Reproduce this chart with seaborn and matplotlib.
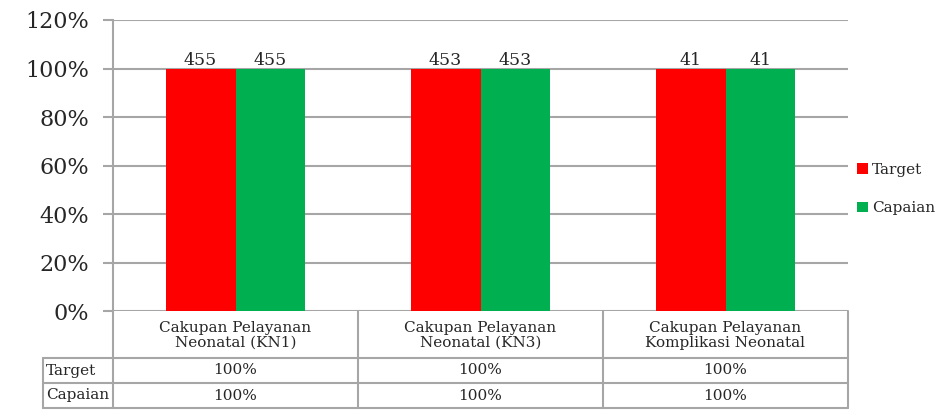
import matplotlib
matplotlib.use("Agg")
import matplotlib.pyplot as plt
import seaborn as sns
import pandas as pd
from matplotlib.patches import Patch

# data
categories = ["Cakupan Pelayanan\nNeonatal (KN1)",
              "Cakupan Pelayanan\nNeonatal (KN3)",
              "Cakupan Pelayanan\nKomplikasi Neonatal"]
target_pct = [100, 100, 100]
capaian_pct = [100, 100, 100]
target_count = [455, 453, 41]
capaian_count = [455, 453, 41]
series = ["Target", "Capaian"]
colors = {"Target": "#ff0000", "Capaian": "#00b050"}

df = pd.DataFrame({
    "Kategori": categories * 2,
    "Seri": ["Target"] * 3 + ["Capaian"] * 3,
    "Persen": [v / 100 for v in target_pct + capaian_pct],
})

sns.set_style("white")
FONT = ["DejaVu Serif"]
plt.rcParams["font.family"] = FONT

W, H = 941, 418
fig = plt.figure(figsize=(W / 100, H / 100), dpi=100)

# layout in pixels
x0, x1 = 113, 848
y_top, y_zero = 20, 311
row_left = 43
row_y = [311, 358, 383, 408]
grid_col = "#a6a6a6"

ax = fig.add_axes([x0 / W, 1 - y_zero / H, (x1 - x0) / W, (y_zero - y_top) / H])
sns.barplot(data=df, x="Kategori", y="Persen", hue="Seri", palette=colors,
            width=0.57, gap=0, saturation=1, ax=ax, legend=False, zorder=3,
            linewidth=0)
ax.set_ylim(0, 1.2)
ax.set_xlim(-0.5, 2.5)
ax.set_yticks([i * 0.2 for i in range(7)])
ax.set_yticklabels([f"{i * 20}%" for i in range(7)], fontsize=16)
ax.set_xticks([])
ax.set_xlabel("")
ax.set_ylabel("")
ax.tick_params(axis="y", length=7, width=1.5, color=grid_col, pad=10, left=True)
ax.yaxis.grid(True, color=grid_col, linewidth=1.5, zorder=0)
ax.set_axisbelow(True)
for s in ["top", "right", "bottom"]:
    ax.spines[s].set_visible(False)
ax.spines["left"].set_color(grid_col)
ax.spines["left"].set_linewidth(1.5)

for cont, counts in zip(ax.containers, [target_count, capaian_count]):
    ax.bar_label(cont, labels=[str(c) for c in counts], fontsize=12.5, padding=0)

# legend
handles = [Patch(facecolor=colors[s], edgecolor="none") for s in series]
fig.legend(handles, series, loc="center left", bbox_to_anchor=(857 / W, 1 - 189 / H),
           frameon=False, fontsize=11, handlelength=0.7, handleheight=0.7,
           handletextpad=0.3, labelspacing=1.6, borderpad=0, borderaxespad=0)

# data table below the axes
tab = fig.add_axes([0, 0, 1, 1])
tab.set_xlim(0, W)
tab.set_ylim(H, 0)
tab.axis("off")
lw = 1.5
col_edges = [x0 + i * (x1 - x0) / 3 for i in range(4)]
# horizontal lines
for yy in row_y[1:]:
    tab.plot([row_left, x1], [yy] * 2, color=grid_col, lw=lw)
# vertical lines
tab.plot([row_left, row_left], [row_y[1], row_y[3]], color=grid_col, lw=lw)
tab.plot([x0, x0], [row_y[0], row_y[3]], color=grid_col, lw=lw)
for xe in col_edges[1:]:
    tab.plot([xe, xe], [row_y[0], row_y[3]], color=grid_col, lw=lw)

for i, cat in enumerate(categories):
    cx = (col_edges[i] + col_edges[i + 1]) / 2
    tab.text(cx, (row_y[0] + row_y[1]) / 2 + 1, cat, ha="center", va="center",
             fontsize=11, linespacing=1.05)
    tab.text(cx, (row_y[1] + row_y[2]) / 2, f"{target_pct[i]}%", ha="center",
             va="center", fontsize=11)
    tab.text(cx, (row_y[2] + row_y[3]) / 2, f"{capaian_pct[i]}%", ha="center",
             va="center", fontsize=11)
for j, name in enumerate(series):
    tab.text(row_left + 3, (row_y[1 + j] + row_y[2 + j]) / 2, name, ha="left",
             va="center", fontsize=11)

fig.savefig("out.png", dpi=100)
